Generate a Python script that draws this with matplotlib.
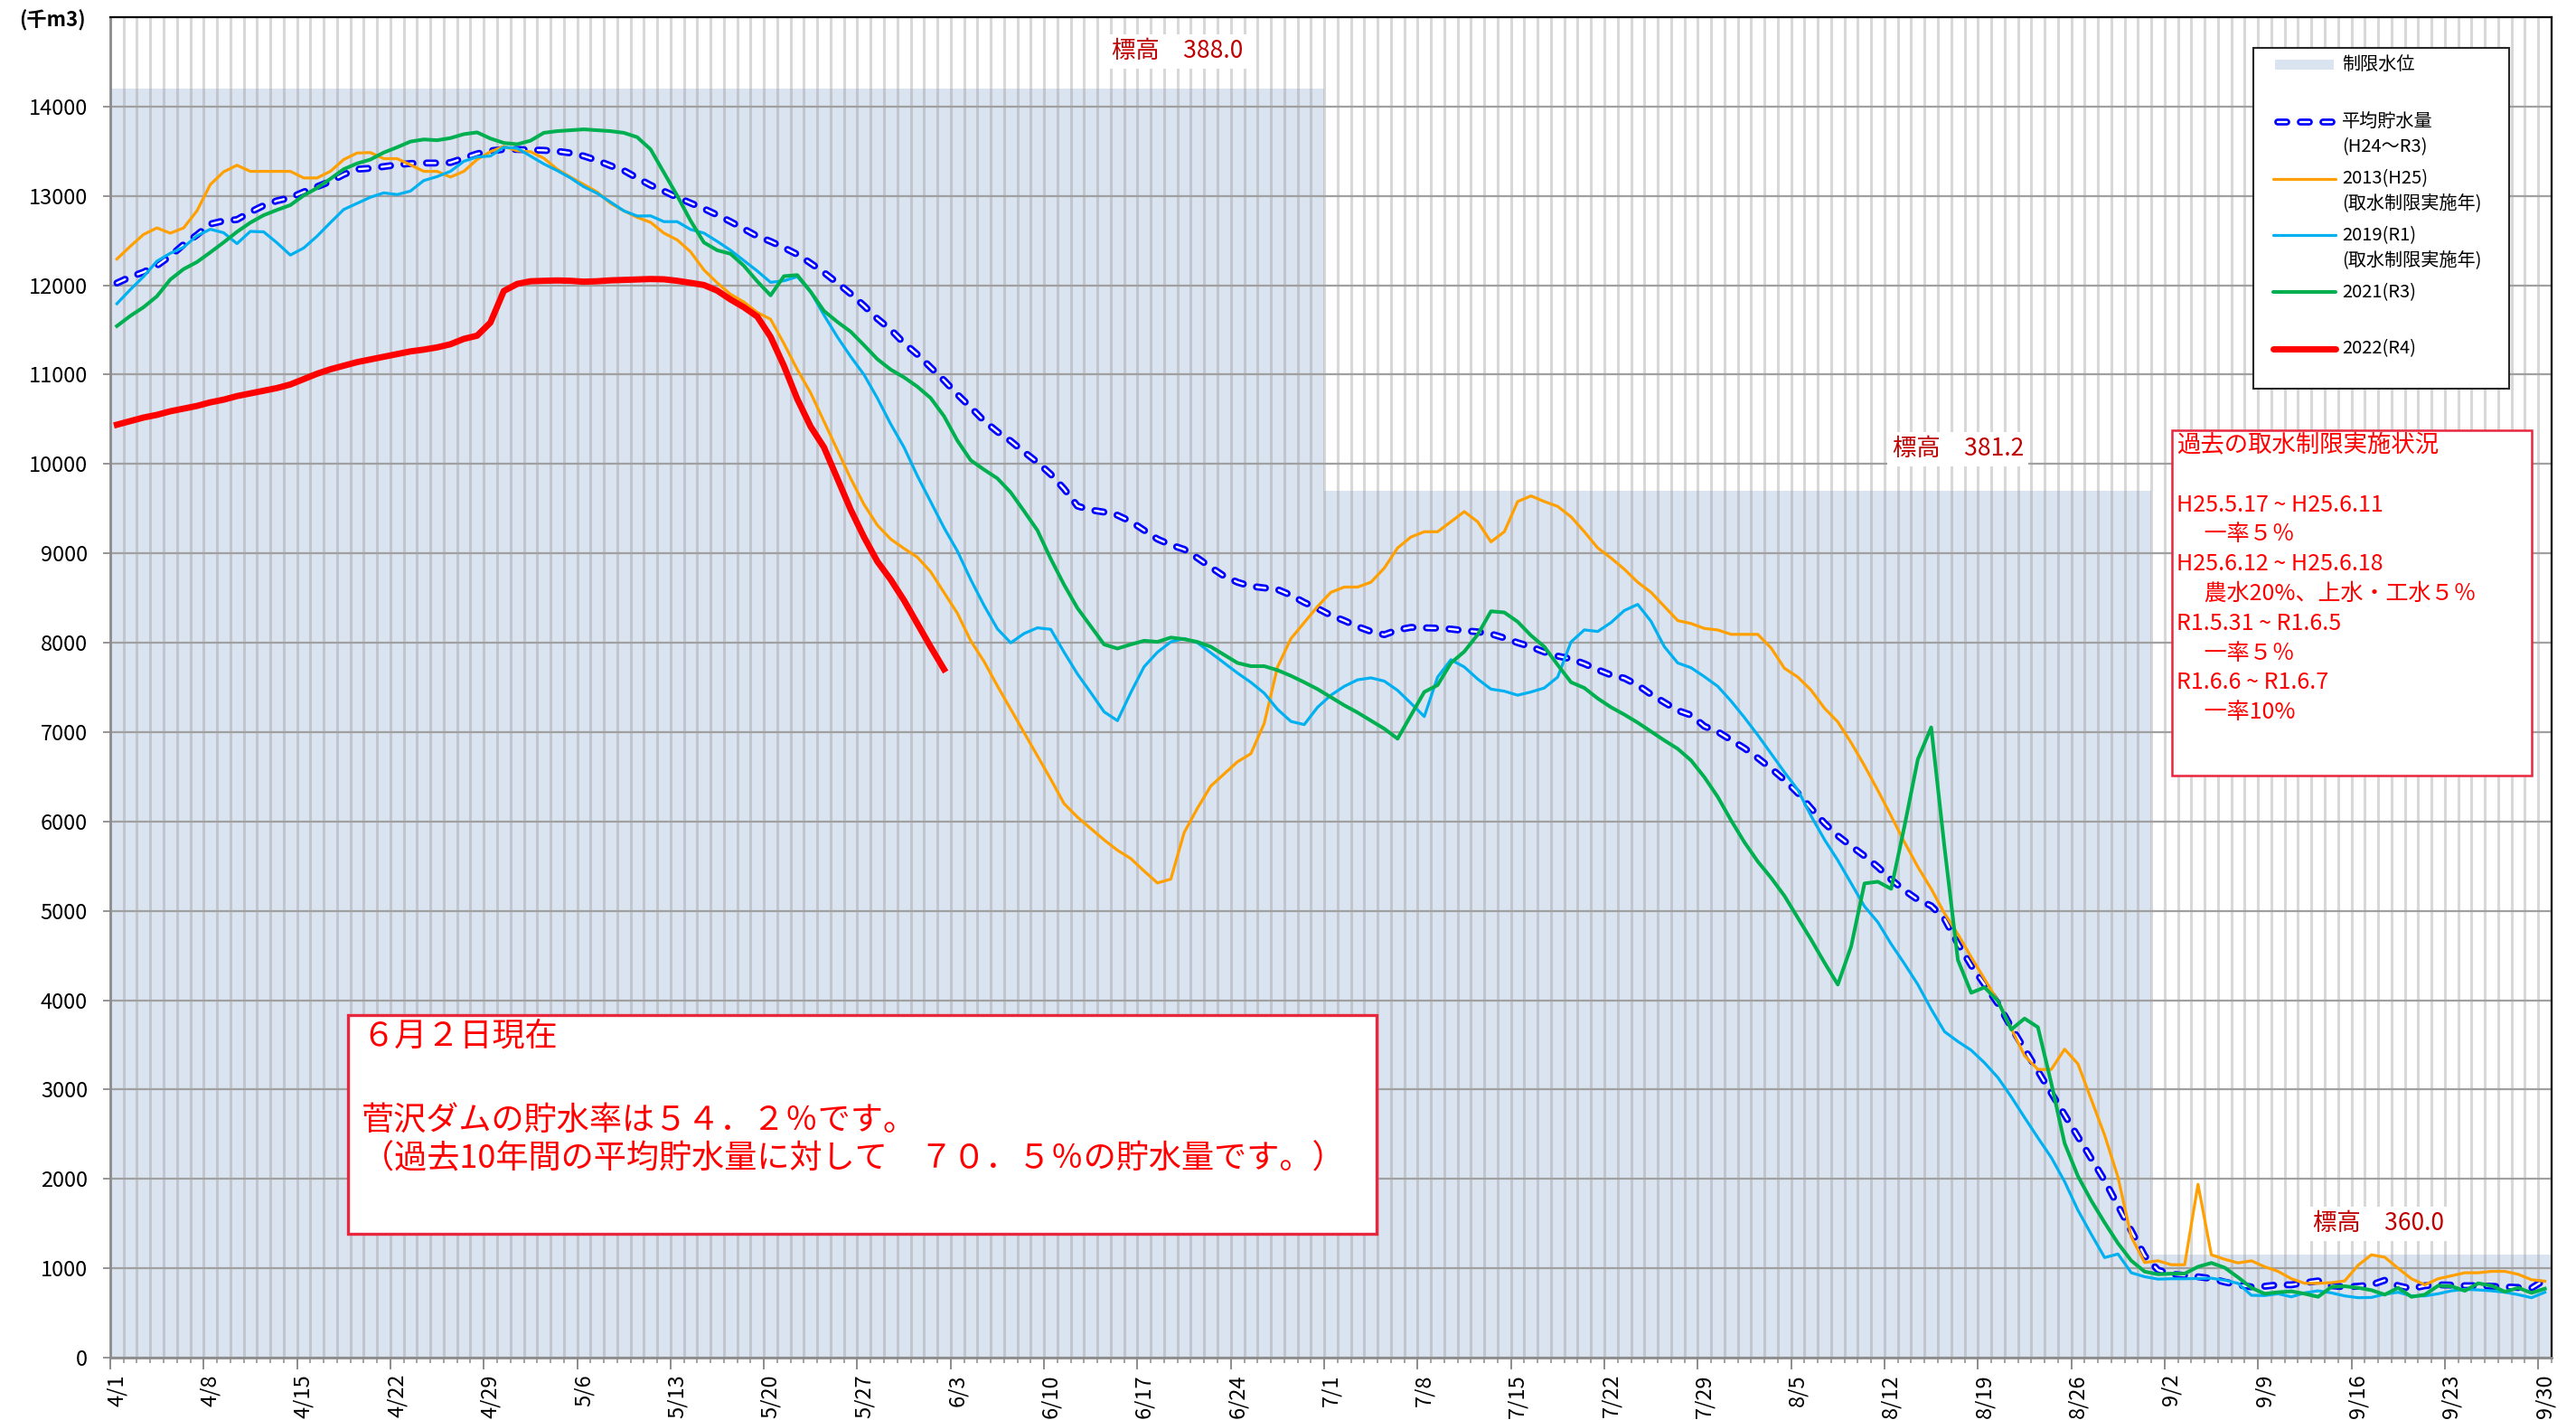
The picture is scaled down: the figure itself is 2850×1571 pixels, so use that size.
import numpy as np
import pandas as pd
import matplotlib
matplotlib.use("Agg")
import matplotlib.pyplot as plt
from matplotlib.patches import Rectangle

plt.rcParams['font.family'] = ['Noto Sans CJK JP', 'DejaVu Sans']
plt.rcParams['lines.scale_dashes'] = False

# daily storage (千m3) from 4/1 to 9/30
dates = pd.date_range("2022-04-01", "2022-09-30", freq="D")

avg = [12025, 12093, 12147, 12221, 12328, 12456, 12564, 12686, 12721, 12735,
       12819, 12892, 12946, 12980, 13044, 13103, 13162, 13240, 13299, 13309,
       13328, 13348, 13363, 13368, 13368, 13373, 13422, 13471, 13505, 13520,
       13520, 13515, 13510, 13500, 13480, 13446, 13397, 13338, 13284, 13201,
       13120, 13054, 12984, 12920, 12857, 12787, 12712, 12630, 12549, 12491,
       12421, 12346, 12247, 12143, 12027, 11905, 11771, 11626, 11504, 11353,
       11226, 11081, 10936, 10779, 10634, 10483, 10361, 10257, 10135, 10019,
       9885, 9722, 9530, 9485, 9462, 9427, 9357, 9258, 9160, 9095,
       9045, 8948, 8844, 8745, 8677, 8632, 8614, 8596, 8533, 8451,
       8384, 8307, 8248, 8181, 8126, 8090, 8144, 8172, 8167, 8163,
       8153, 8135, 8122, 8099, 8054, 8000, 7955, 7896, 7851, 7819,
       7765, 7698, 7639, 7603, 7526, 7422, 7332, 7242, 7190, 7065,
       7004, 6912, 6820, 6710, 6593, 6465, 6318, 6146, 5981, 5840,
       5724, 5614, 5491, 5350, 5228, 5124, 5056, 4909, 4634, 4389,
       4175, 3961, 3697, 3452, 3207, 2962, 2717, 2472, 2227, 1982,
       1700, 1420, 1140, 980, 935, 920, 905, 886, 846, 815,
       792, 799, 815, 815, 839, 859, 805, 792, 799, 815,
       866, 805, 772, 805, 815, 812, 805, 805, 799, 792,
       785, 779, 872]

y2013 = [12294, 12436, 12569, 12642, 12583, 12642, 12833, 13127, 13270, 13343,
         13275, 13275, 13275, 13275, 13201, 13201, 13275, 13407, 13480, 13485,
         13417, 13417, 13348, 13275, 13275, 13211, 13275, 13407, 13495, 13554,
         13505, 13495, 13422, 13299, 13211, 13127, 13044, 12917, 12833, 12760,
         12705, 12584, 12508, 12375, 12172, 12027, 11899, 11812, 11696, 11620,
         11348, 11057, 10796, 10477, 10158, 9839, 9548, 9316, 9160, 9055,
         8957, 8794, 8562, 8330, 8022, 7790, 7517, 7256, 6995, 6734,
         6473, 6200, 6049, 5921, 5794, 5678, 5585, 5445, 5312, 5355,
         5876, 6149, 6397, 6533, 6668, 6758, 7097, 7729, 8045, 8226,
         8406, 8564, 8623, 8623, 8677, 8835, 9061, 9183, 9242, 9242,
         9354, 9467, 9354, 9129, 9242, 9580, 9643, 9580, 9526, 9409,
         9242, 9061, 8948, 8822, 8677, 8564, 8406, 8248, 8215, 8160,
         8143, 8094, 8094, 8094, 7941, 7714, 7616, 7469, 7267, 7114,
         6881, 6624, 6348, 6061, 5767, 5491, 5246, 4971, 4738, 4481,
         4236, 3991, 3685, 3379, 3225, 3225, 3452, 3287, 2889, 2490,
         2020, 1350, 1065, 1084, 1040, 1040, 1940, 1151, 1101, 1060,
         1084, 1017, 966, 883, 832, 832, 839, 859, 1034, 1151,
         1124, 1000, 883, 815, 883, 916, 950, 950, 966, 966,
         933, 872, 856]

y2019 = [11794, 11951, 12098, 12270, 12358, 12426, 12554, 12627, 12588, 12466,
         12603, 12598, 12475, 12338, 12417, 12549, 12701, 12848, 12917, 12985,
         13034, 13015, 13054, 13172, 13216, 13275, 13387, 13436, 13446, 13544,
         13534, 13446, 13358, 13284, 13201, 13103, 13029, 12931, 12833, 12775,
         12777, 12712, 12712, 12625, 12584, 12491, 12392, 12276, 12160, 12033,
         12050, 12096, 11928, 11667, 11423, 11203, 11000, 10738, 10448, 10187,
         9868, 9578, 9287, 9026, 8707, 8417, 8156, 7999, 8103, 8167,
         8150, 7894, 7651, 7442, 7227, 7128, 7442, 7732, 7894, 8010,
         8047, 8000, 7887, 7774, 7661, 7557, 7436, 7255, 7120, 7084,
         7278, 7413, 7512, 7585, 7607, 7571, 7467, 7323, 7174, 7616,
         7810, 7729, 7594, 7481, 7458, 7413, 7449, 7494, 7616, 8009,
         8144, 8126, 8226, 8361, 8429, 8239, 7955, 7774, 7720, 7620,
         7512, 7347, 7163, 6967, 6759, 6551, 6354, 6061, 5797, 5565,
         5307, 5050, 4873, 4628, 4407, 4175, 3899, 3648, 3538, 3440,
         3299, 3134, 2919, 2687, 2460, 2240, 1970, 1650, 1380, 1120,
         1160, 950, 906, 879, 883, 883, 886, 889, 866, 832,
         698, 695, 715, 681, 725, 748, 725, 691, 671, 674,
         711, 732, 691, 691, 715, 748, 765, 758, 748, 732,
         705, 671, 732]

y2021 = [11544, 11657, 11755, 11877, 12064, 12181, 12260, 12368, 12480, 12598,
         12701, 12784, 12843, 12897, 13005, 13088, 13191, 13299, 13363, 13407,
         13485, 13544, 13608, 13632, 13623, 13647, 13691, 13711, 13642, 13593,
         13578, 13618, 13706, 13725, 13735, 13745, 13735, 13725, 13706, 13657,
         13522, 13263, 13002, 12723, 12479, 12392, 12352, 12218, 12044, 11887,
         12102, 12114, 11928, 11713, 11591, 11481, 11330, 11174, 11057, 10970,
         10866, 10738, 10535, 10262, 10042, 9937, 9839, 9682, 9473, 9258,
         8939, 8649, 8388, 8185, 7981, 7935, 7981, 8022, 8010, 8058,
         8040, 8009, 7955, 7865, 7774, 7738, 7738, 7693, 7630, 7558,
         7481, 7391, 7300, 7219, 7129, 7038, 6926, 7187, 7449, 7526,
         7774, 7901, 8090, 8352, 8339, 8235, 8081, 7955, 7752, 7558,
         7494, 7377, 7278, 7196, 7106, 7007, 6907, 6813, 6683, 6495,
         6275, 6012, 5767, 5552, 5369, 5167, 4922, 4677, 4420, 4175,
         4603, 5307, 5326, 5246, 5950, 6697, 7053, 5706, 4450, 4083,
         4144, 3991, 3672, 3795, 3697, 3072, 2399, 2031, 1756, 1511,
         1280, 1085, 963, 933, 940, 940, 1017, 1060, 1007, 899,
         782, 715, 732, 742, 715, 681, 792, 799, 782, 755,
         705, 782, 681, 705, 805, 799, 748, 832, 805, 738,
         782, 725, 772]

# 2022 only up to 6/2
y2022 = [10440, 10480, 10520, 10550, 10590, 10620, 10650, 10690, 10720, 10760,
         10790, 10820, 10850, 10890, 10950, 11010, 11060, 11100, 11140, 11170,
         11200, 11230, 11260, 11280, 11305, 11340, 11400, 11436, 11583, 11936,
         12015, 12045, 12050, 12054, 12050, 12040, 12045, 12055, 12060, 12065,
         12070, 12067, 12050, 12027, 12003, 11940, 11841, 11754, 11650, 11423,
         11098, 10727, 10419, 10187, 9839, 9490, 9183, 8910, 8707, 8475,
         8214, 7953, 7703]

# 制限水位 (step): boundaries in days from 4/1
limit_edges = [0, 91, 153, 183]
limit_vals = [14200, 9700, 1150]
elev_text = ["標高　388.0", "標高　381.2", "標高　360.0"]

legend_labels = ["制限水位", "平均貯水量", "2013(H25)", "2019(R1)", "2021(R3)", "2022(R4)"]
legend_sub = ["", "(H24～R3)", "(取水制限実施年)", "(取水制限実施年)", "", ""]

note_lines = ["過去の取水制限実施状況", "",
              "H25.5.17 ~ H25.6.11", "\u3000 一率５％",
              "H25.6.12 ~ H25.6.18", "\u3000 農水20%、上水・工水５％",
              "R1.5.31 ~ R1.6.5", "\u3000 一率５％",
              "R1.6.6 ~ R1.6.7", "\u3000 一率10%"]
status_lines = ["６月２日現在", "菅沢ダムの貯水率は５４．２％です。",
                "（過去10年間の平均貯水量に対して　７０．５％の貯水量です。）"]

BLUE = "#0000ff"
ORANGE = "#ffa000"
CYAN = "#00b0f0"
GREEN = "#00b050"
RED = "#ff0000"
SHADE = "#dae3f0"
BOXRED = "#e8263e"
DASH = (7.2, 10.8)

fig = plt.figure(figsize=(28.5, 15.71), dpi=100)
ax = fig.add_axes([0.0428, 0.0439, 0.9477, 0.9440])

x = np.arange(len(dates)) + 0.5
ax.stairs(limit_vals, limit_edges, fill=True, color=SHADE, zorder=0.2)

ax.plot(x, avg, color=BLUE, lw=5.6, dashes=DASH, dash_capstyle="round", zorder=3)
ax.plot(x, avg, color="white", lw=1.7, dashes=DASH, dash_capstyle="round", zorder=3.01)
ax.plot(x, y2013, color=ORANGE, lw=2.3, zorder=3.1)
ax.plot(x, y2019, color=CYAN, lw=2.3, zorder=3.2)
ax.plot(x, y2021, color=GREEN, lw=2.9, zorder=3.3)
ax.plot(x[:len(y2022)], y2022, color=RED, lw=5, zorder=3.4)

ax.set_xlim(0, 183)
ax.set_ylim(0, 15000)

# axes / ticks
ax.set_yticks(np.arange(0, 15000, 1000))
ax.set_yticklabels([str(v) for v in range(0, 15000, 1000)])
ax.tick_params(axis="y", length=6, width=1.3, color="#8c8c8c", pad=12, labelsize=17)
ax.set_xticks(x[::7])
ax.set_xticklabels([f"{d.month}/{d.day}" for d in dates[::7]])
ax.tick_params(axis="x", which="major", length=0, pad=13, labelsize=17, labelrotation=90)
ax.set_xticks(np.arange(0, 184), minor=True)
ax.tick_params(axis="x", which="minor", length=4, width=1.1, color="#8c8c8c")
sec = ax.secondary_xaxis("bottom")
sec.set_xticks(np.arange(0, 184, 7))
sec.tick_params(length=9, width=1.4, color="#8c8c8c", labelbottom=False)
sec.spines["bottom"].set_visible(False)

ax.set_axisbelow(True)
ax.grid(axis="y", which="major", color="#a0a0a0", lw=1.6)
ax.grid(axis="x", which="minor", color="#999999", alpha=0.38, lw=2.2)
ax.grid(axis="x", which="major", visible=False)

for s in ["left", "bottom"]:
    ax.spines[s].set_color("#8c8c8c")
    ax.spines[s].set_linewidth(2)
for s in ["top", "right"]:
    ax.spines[s].set_color("black")
    ax.spines[s].set_linewidth(1.6)

fig.text(58 / 2850, 1 - 23 / 1571, "(千m3)", fontsize=16, fontweight="bold",
         ha="center", va="center")

# elevation labels
for xd, yv, t in zip([80, 138.5, 170], [14620, 10170, 1500], elev_text):
    ax.text(xd, yv, t, color="#c00000", fontsize=19, ha="center", va="center",
            bbox=dict(fc="white", ec="none", pad=4), zorder=6)

# legend (drawn by hand to keep the Excel layout)
ax.add_patch(Rectangle((0.8778, 0.7229), 0.1048, 0.2542, transform=ax.transAxes,
                       fc="white", ec="#262626", lw=1.5, zorder=7))
hx0, hx1, tx = 0.8860, 0.9115, 0.9141
ly0, lstep, lsub = 0.9643, 0.04236, 0.0185
styles = [None,
          None,
          dict(color=ORANGE, lw=2.3),
          dict(color=CYAN, lw=2.3),
          dict(color=GREEN, lw=2.9),
          dict(color=RED, lw=5)]
for k, (lab, sub, st) in enumerate(zip(legend_labels, legend_sub, styles)):
    yy = ly0 - k * lstep
    if k == 0:
        ax.add_patch(Rectangle((hx0 + 0.0006, yy - 0.0037), hx1 - hx0 - 0.0012, 0.0074,
                               transform=ax.transAxes, fc=SHADE, ec="none", zorder=8))
    elif k == 1:
        ax.plot([hx0 + 0.002, hx1], [yy, yy], transform=ax.transAxes, color=BLUE, lw=5.6,
                dashes=DASH, dash_capstyle="round", clip_on=False, zorder=8)
        ax.plot([hx0 + 0.002, hx1], [yy, yy], transform=ax.transAxes, color="white", lw=1.7,
                dashes=DASH, dash_capstyle="round", clip_on=False, zorder=8.1)
    else:
        ax.plot([hx0, hx1], [yy, yy], transform=ax.transAxes, clip_on=False, zorder=8,
                solid_capstyle="round", **st)
    ax.text(tx, yy, lab, transform=ax.transAxes, fontsize=14.5, ha="left", va="center", zorder=8)
    if sub:
        ax.text(tx, yy - lsub, sub, transform=ax.transAxes, fontsize=14.5, ha="left",
                va="center", zorder=8)

# past restriction note
ax.add_patch(Rectangle((0.8445, 0.4343), 0.1473, 0.2575, transform=ax.transAxes,
                       fc="white", ec=BOXRED, lw=1.8, zorder=7))
for k, line in enumerate(note_lines):
    yy = (1502 - (493 + k * 32.8)) / 1483
    ax.text(0.8463, yy, line, transform=ax.transAxes, fontsize=19 if k == 0 else 18,
            color=RED, ha="left", va="center", zorder=8)

# current status box
ax.add_patch(Rectangle((0.0974, 0.0924), 0.4213, 0.1632, transform=ax.transAxes,
                       fc="white", ec=BOXRED, lw=2.4, zorder=7))
for yy, line in zip([0.2394, 0.1767, 0.1477], status_lines):
    ax.text(0.1029, yy, line, transform=ax.transAxes, fontsize=26, color=RED,
            ha="left", va="center", zorder=8)

fig.savefig("out.png", dpi=100)
